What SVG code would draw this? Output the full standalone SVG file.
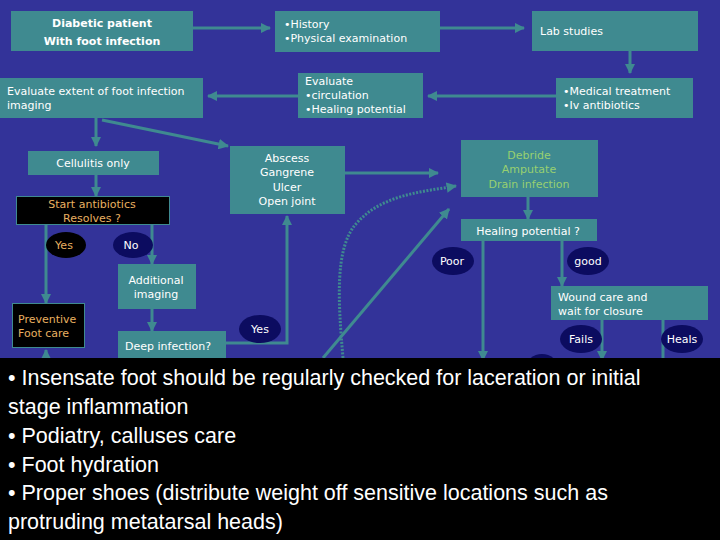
<svg xmlns="http://www.w3.org/2000/svg" width="720" height="540" viewBox="0 0 720 540">
<style>
.b{fill:#3f8a90}
.k{fill:#000;stroke:#3f8a90;stroke-width:1}
.t{font-family:"DejaVu Sans",sans-serif;font-size:11px;fill:#fff}
.o{fill:#e8b060}
.g{fill:#98d070}
.e{fill:#0c0c60}
.c{stroke:#3f8a90;stroke-width:3;fill:none}
.bt{font-family:"Liberation Sans",Arial,sans-serif;font-size:21.5px;fill:#fff}
</style>
<defs>
<marker id="a" viewBox="0 0 10 10" refX="9" refY="5" markerWidth="3.5" markerHeight="3.5" orient="auto"><path d="M0,0L10,5L0,10z" fill="#3f8a90"/></marker>
</defs>
<rect width="720" height="540" fill="#333399"/>
<g id="connectors">
<path class="c" marker-end="url(#a)" d="M193,28H270"/>
<path class="c" marker-end="url(#a)" d="M440,28H524"/>
<path class="c" marker-end="url(#a)" d="M630,51V73"/>
<path class="c" marker-end="url(#a)" d="M556,96H428"/>
<path class="c" marker-end="url(#a)" d="M298,96H208"/>
<path class="c" stroke-width="5" marker-end="url(#a)" d="M96,118V146"/>
<path class="c" stroke-width="5" marker-end="url(#a)" d="M102,120L228,146"/>
<path class="c" marker-end="url(#a)" d="M96,175V196"/>
<path class="c" marker-end="url(#a)" d="M46,225V303"/>
<path class="c" marker-end="url(#a)" d="M152,225V264"/>
<path class="c" marker-end="url(#a)" d="M152,309V331"/>
<path class="c" marker-end="url(#a)" d="M226,343H287V216"/>
<path class="c" marker-end="url(#a)" d="M345,173H438"/>
<path class="c" stroke-dasharray="2,1.5" marker-end="url(#a)" d="M343,358C338,300 335,250 355,225C380,195 420,192 456,186"/>
<path class="c" marker-end="url(#a)" d="M323,358L449,209"/>
<path class="c" marker-end="url(#a)" d="M528,197V219"/>
<path class="c" marker-end="url(#a)" d="M483,241V360"/>
<path class="c" marker-end="url(#a)" d="M562,241V286"/>
<path class="c" marker-end="url(#a)" d="M602,320V360"/>
<path class="c" d="M663,320V360"/>
<path class="c" marker-end="url(#a)" d="M46,365V350"/>
</g>
<g id="n1"><rect class="b" x="11" y="11" width="182" height="40"/><text class="t" x="102" y="27" text-anchor="middle" font-weight="bold" font-size="13.5">Diabetic patient</text><text class="t" x="102" y="45" text-anchor="middle" font-weight="bold" font-size="13.5">With foot infection</text></g>
<g id="n2"><rect class="b" x="275" y="11" width="165" height="41"/><text class="t" x="284" y="28">•History</text><text class="t" x="284" y="42">•Physical examination</text></g>
<g id="n3"><rect class="b" x="532" y="11" width="166" height="40"/><text class="t" x="540" y="35">Lab studies</text></g>
<g id="n4"><rect class="b" x="556" y="78" width="137" height="40"/><text class="t" x="563" y="95">•Medical treatment</text><text class="t" x="563" y="109">•Iv antibiotics</text></g>
<g id="n5"><rect class="b" x="298" y="73" width="125" height="45"/><text class="t" x="305" y="85">Evaluate</text><text class="t" x="305" y="99">•circulation</text><text class="t" x="305" y="113">•Healing potential</text></g>
<g id="n6"><rect class="b" x="0" y="78" width="203" height="40"/><text class="t" x="7" y="95">Evaluate extent of foot infection</text><text class="t" x="7" y="109">imaging</text></g>
<g id="n7"><rect class="b" x="28" y="151" width="131" height="24"/><text class="t" x="93" y="167" text-anchor="middle">Cellulitis only</text></g>
<g id="n8"><rect class="k" x="16.5" y="196.5" width="153" height="28"/><text class="t o" x="92" y="208" text-anchor="middle">Start antibiotics</text><text class="t o" x="92" y="222" text-anchor="middle">Resolves ?</text></g>
<g id="n9"><rect class="b" x="230" y="146" width="115" height="68"/><text class="t" x="287" y="162" text-anchor="middle">Abscess</text><text class="t" x="287" y="176" text-anchor="middle">Gangrene</text><text class="t" x="287" y="191" text-anchor="middle">Ulcer</text><text class="t" x="287" y="205" text-anchor="middle">Open joint</text></g>
<g id="n10"><rect class="b" x="461" y="140" width="137" height="57"/><text class="t g" x="529" y="159" text-anchor="middle">Debride</text><text class="t g" x="529" y="173" text-anchor="middle">Amputate</text><text class="t g" x="529" y="188" text-anchor="middle">Drain infection</text></g>
<g id="n11"><rect class="b" x="461" y="219" width="136" height="22"/><text class="t" x="528" y="235" text-anchor="middle">Healing potential ?</text></g>
<g id="n12"><ellipse cx="66" cy="245" rx="20" ry="13" fill="#000"/><text class="t o" x="64" y="249" text-anchor="middle">Yes</text></g>
<g id="n13"><ellipse cx="133" cy="245" rx="20" ry="13" class="e"/><text class="t" x="131" y="249" text-anchor="middle">No</text></g>
<g id="n14"><rect class="b" x="118" y="264" width="78" height="45"/><text class="t" x="156" y="284" text-anchor="middle">Additional</text><text class="t" x="156" y="298" text-anchor="middle">imaging</text></g>
<g id="n15"><rect class="k" x="12.5" y="303.5" width="72" height="44"/><text class="t o" x="18" y="323">Preventive</text><text class="t o" x="18" y="337">Foot care</text></g>
<g id="n16"><rect class="b" x="118" y="331" width="108" height="30"/><text class="t" x="125" y="350">Deep infection?</text></g>
<g id="n17"><ellipse cx="260" cy="329" rx="21" ry="14" class="e"/><text class="t" x="260" y="333" text-anchor="middle">Yes</text></g>
<g id="n18"><ellipse cx="453" cy="261" rx="21" ry="14" class="e"/><text class="t" x="452" y="265" text-anchor="middle">Poor</text></g>
<g id="n19"><ellipse cx="588" cy="261" rx="21" ry="14" class="e"/><text class="t" x="588" y="265" text-anchor="middle">good</text></g>
<g id="n20"><rect class="b" x="551" y="286" width="157" height="34"/><text class="t" x="558" y="301">Wound care and</text><text class="t" x="558" y="315">wait for closure</text></g>
<g id="n21"><ellipse cx="581" cy="339" rx="21" ry="14" class="e"/><text class="t" x="581" y="343" text-anchor="middle">Fails</text></g>
<g id="n22"><ellipse cx="682" cy="339" rx="21" ry="14" class="e"/><text class="t" x="682" y="343" text-anchor="middle">Heals</text></g>
<ellipse cx="542" cy="368" rx="16" ry="14" class="e"/>
<rect x="0" y="358" width="720" height="182" fill="#000"/>
<text class="bt" x="8" y="385">• Insensate foot should be regularly checked for laceration or initial</text>
<text class="bt" x="8" y="414">stage inflammation</text>
<text class="bt" x="8" y="443">• Podiatry, calluses care</text>
<text class="bt" x="8" y="472">• Foot hydration</text>
<text class="bt" x="8" y="500">• Proper shoes (distribute weight off sensitive locations such as</text>
<text class="bt" x="8" y="529">protruding metatarsal heads)</text>
</svg>
